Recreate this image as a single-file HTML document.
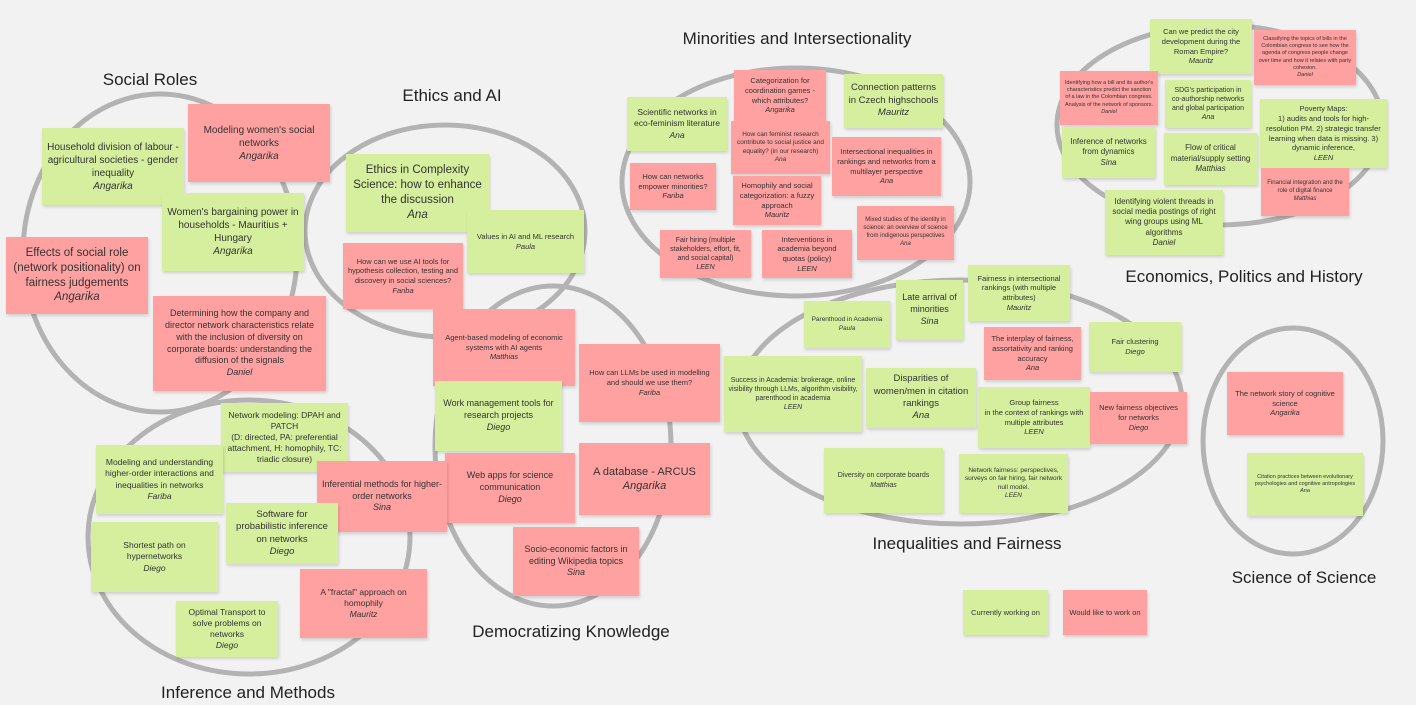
<!DOCTYPE html>
<html><head><meta charset="utf-8"><style>
body{margin:0;width:1416px;height:705px;background:#f2f2f2;position:relative;overflow:hidden;font-family:"Liberation Sans","DejaVu Sans",sans-serif;color:#333}
svg{position:absolute;left:0;top:0}
.n{position:absolute;display:flex;flex-direction:column;align-items:center;justify-content:center;text-align:center;line-height:1.3;box-shadow:1px 2px 3px rgba(0,0,0,.15);box-sizing:border-box;padding:2px 4px}
.g{background:#d5ef9e}.r{background:#ffa1a1}
.n i{display:block}
.t{position:absolute;font-size:17px;color:#222;white-space:nowrap;transform:translateX(-50%)}
</style></head><body>
<svg width="1416" height="705"><g fill="none" stroke="#b3b3b3" stroke-width="5">
<ellipse cx="160" cy="253" rx="137" ry="159"/>
<ellipse cx="445" cy="231" rx="140" ry="106"/>
<ellipse cx="553" cy="446" rx="118" ry="160"/>
<ellipse cx="249" cy="537" rx="161" ry="137"/>
<ellipse cx="796" cy="182" rx="174" ry="114"/>
<ellipse cx="1220" cy="125" rx="163" ry="100"/>
<ellipse cx="960" cy="402" rx="222" ry="122"/>
<ellipse cx="1293" cy="441" rx="90" ry="113"/>
</g></svg>
<div class="t" style="left:150px;top:70px">Social Roles</div>
<div class="t" style="left:452px;top:86px">Ethics and AI</div>
<div class="t" style="left:797px;top:29px">Minorities and Intersectionality</div>
<div class="t" style="left:1244px;top:267px">Economics, Politics and History</div>
<div class="t" style="left:967px;top:534px">Inequalities and Fairness</div>
<div class="t" style="left:1304px;top:568px">Science of Science</div>
<div class="t" style="left:571px;top:622px">Democratizing Knowledge</div>
<div class="t" style="left:248px;top:683px">Inference and Methods</div>

<div class="n g" style="left:42px;top:128px;width:142px;height:77px;font-size:10px">Household division of labour - agricultural societies - gender inequality<i>Angarika</i></div>
<div class="n r" style="left:188px;top:104px;width:142px;height:78px;font-size:10px">Modeling women's social networks<i>Angarika</i></div>
<div class="n g" style="left:162px;top:193px;width:142px;height:78px;font-size:10px">Women's bargaining power in households - Mauritius + Hungary<i>Angarika</i></div>
<div class="n r" style="left:6px;top:237px;width:142px;height:77px;font-size:11.5px">Effects of social role (network positionality) on fairness judgements<i>Angarika</i></div>
<div class="n r" style="left:153px;top:296px;width:173px;height:95px;font-size:9px">Determining how the company and director network characteristics relate with the inclusion of diversity on corporate boards: understanding the diffusion of the signals<i>Daniel</i></div>

<div class="n g" style="left:346px;top:154px;width:143px;height:78px;font-size:11.5px">Ethics in Complexity Science: how to enhance the discussion<i>Ana</i></div>
<div class="n g" style="left:467px;top:210px;width:117px;height:63px;font-size:7.5px">Values in AI and ML research<i>Paula</i></div>
<div class="n r" style="left:343px;top:243px;width:120px;height:66px;font-size:7.5px">How can we use AI tools for hypothesis collection, testing and discovery in social sciences?<i>Fariba</i></div>

<div class="n r" style="left:433px;top:309px;width:142px;height:77px;font-size:7.5px">Agent-based modeling of economic systems with AI agents<i>Matthias</i></div>
<div class="n g" style="left:435px;top:381px;width:127px;height:70px;font-size:9px">Work management tools for research projects<i>Diego</i></div>
<div class="n r" style="left:445px;top:453px;width:130px;height:70px;font-size:9px">Web apps for science communication<i>Diego</i></div>
<div class="n r" style="left:579px;top:344px;width:141px;height:78px;font-size:7.5px">How can LLMs be used in modelling and should we use them?<i>Fariba</i></div>
<div class="n r" style="left:579px;top:443px;width:131px;height:72px;font-size:11px">A database - ARCUS<i>Angarika</i></div>
<div class="n r" style="left:513px;top:527px;width:126px;height:69px;font-size:9px">Socio-economic factors in editing Wikipedia topics<i>Sina</i></div>

<div class="n g" style="left:221px;top:403px;width:127px;height:69px;font-size:8.5px">Network modeling: DPAH and PATCH<br>(D: directed, PA: preferential attachment, H: homophily, TC: triadic closure)</div>
<div class="n g" style="left:96px;top:445px;width:127px;height:69px;font-size:8.5px">Modeling and understanding higher-order interactions and inequalities in networks<i>Fariba</i></div>
<div class="n r" style="left:317px;top:461px;width:130px;height:71px;font-size:9px">Inferential methods for higher-order networks<i>Sina</i></div>
<div class="n g" style="left:226px;top:503px;width:112px;height:61px;font-size:9.5px">Software for probabilistic inference on networks<i>Diego</i></div>
<div class="n g" style="left:91px;top:522px;width:127px;height:70px;font-size:8.5px">Shortest path on hypernetworks<i>Diego</i></div>
<div class="n r" style="left:300px;top:569px;width:127px;height:69px;font-size:8.5px">A "fractal" approach on homophily<i>Mauritz</i></div>
<div class="n g" style="left:176px;top:601px;width:102px;height:56px;font-size:8.5px">Optimal Transport to solve problems on networks<i>Diego</i></div>

<div class="n g" style="left:627px;top:97px;width:100px;height:54px;font-size:8.5px">Scientific networks in eco-feminism literature<i>Ana</i></div>
<div class="n r" style="left:734px;top:70px;width:92px;height:51px;font-size:7.5px">Categorization for coordination games - which attributes?<i>Angarika</i></div>
<div class="n g" style="left:844px;top:74px;width:99px;height:54px;font-size:9.5px">Connection patterns in Czech highschools<i>Mauritz</i></div>
<div class="n r" style="left:731px;top:121px;width:99px;height:53px;font-size:6.5px">How can feminist research contribute to social justice and equality? (in our research)<i>Ana</i></div>
<div class="n r" style="left:630px;top:163px;width:86px;height:47px;font-size:7.5px">How can networks empower minorities?<i>Fariba</i></div>
<div class="n r" style="left:733px;top:176px;width:88px;height:49px;font-size:7.5px">Homophily and social categorization: a fuzzy approach<i>Mauritz</i></div>
<div class="n r" style="left:832px;top:137px;width:109px;height:59px;font-size:7.5px">Intersectional inequalities in rankings and networks from a multilayer perspective<i>Ana</i></div>
<div class="n r" style="left:857px;top:206px;width:97px;height:54px;font-size:6px">Mixed studies of the identity in science: an overview of science from indigenous perspectives<i>Ana</i></div>
<div class="n r" style="left:660px;top:230px;width:91px;height:48px;font-size:7px">Fair hiring (multiple stakeholders, effort, fit, and social capital)<i>LEEN</i></div>
<div class="n r" style="left:762px;top:230px;width:90px;height:48px;font-size:7.5px">Interventions in academia beyond quotas (policy)<i>LEEN</i></div>

<div class="n g" style="left:1150px;top:19px;width:102px;height:55px;font-size:7.5px">Can we predict the city development during the Roman Empire?<i>Mauritz</i></div>
<div class="n r" style="left:1254px;top:30px;width:102px;height:55px;font-size:5.5px">Classifying the topics of bills in the Colombian congress to see how the agenda of congress people change over time and how it relates with party cohesion.<i>Daniel</i></div>
<div class="n r" style="left:1060px;top:71px;width:98px;height:54px;font-size:5.5px">Identifying how a bill and its author's characteristics predict the sanction of a law in the Colombian congress. Analysis of the network of sponsors.<i>Daniel</i></div>
<div class="n g" style="left:1165px;top:80px;width:86px;height:48px;font-size:7px">SDG's participation in co-authorship networks and global participation<i>Ana</i></div>
<div class="n g" style="left:1062px;top:127px;width:93px;height:51px;font-size:8px">Inference of networks from dynamics<i>Sina</i></div>
<div class="n g" style="left:1164px;top:133px;width:93px;height:52px;font-size:8px">Flow of critical material/supply setting<i>Matthias</i></div>
<div class="n g" style="left:1260px;top:99px;width:127px;height:69px;font-size:7.5px">Poverty Maps:<br>1) audits and tools for high-resolution PM. 2) strategic transfer learning when data is missing. 3) dynamic inference,<i>LEEN</i></div>
<div class="n r" style="left:1261px;top:168px;width:88px;height:48px;font-size:6px">Financial integration and the role of digital finance<i>Matthias</i></div>
<div class="n g" style="left:1105px;top:190px;width:118px;height:65px;font-size:8px">Identifying violent threads in social media postings of right wing groups using ML algorithms<i>Daniel</i></div>

<div class="n g" style="left:968px;top:265px;width:102px;height:56px;font-size:7.5px">Fairness in intersectional rankings (with multiple attributes)<i>Mauritz</i></div>
<div class="n g" style="left:896px;top:280px;width:67px;height:60px;font-size:9px">Late arrival of minorities<i>Sina</i></div>
<div class="n g" style="left:804px;top:301px;width:86px;height:47px;font-size:6.5px">Parenthood in Academia<i>Paula</i></div>
<div class="n r" style="left:984px;top:327px;width:97px;height:53px;font-size:7.5px">The interplay of fairness, assortativity and ranking accuracy<i>Ana</i></div>
<div class="n g" style="left:1089px;top:322px;width:92px;height:50px;font-size:7.5px">Fair clustering<i>Diego</i></div>
<div class="n g" style="left:724px;top:356px;width:138px;height:76px;font-size:7px">Success in Academia: brokerage, online visibility through LLMs, algorithm visibility, parenthood in academia<i>LEEN</i></div>
<div class="n g" style="left:866px;top:368px;width:110px;height:60px;font-size:9.5px">Disparities of women/men in citation rankings<i>Ana</i></div>
<div class="n g" style="left:978px;top:387px;width:112px;height:61px;font-size:7.5px">Group fairness<br>in the context of rankings with multiple attributes<i>LEEN</i></div>
<div class="n r" style="left:1090px;top:392px;width:97px;height:52px;font-size:7.5px">New fairness objectives for networks<i>Diego</i></div>
<div class="n g" style="left:824px;top:448px;width:119px;height:65px;font-size:7px">Diversity on corporate boards<i>Matthias</i></div>
<div class="n g" style="left:959px;top:454px;width:109px;height:59px;font-size:6.5px">Network fairness: perspectives, surveys on fair hiring, fair network null model.<i>LEEN</i></div>

<div class="n r" style="left:1227px;top:372px;width:116px;height:63px;font-size:7.5px">The network story of cognitive science<i>Angarika</i></div>
<div class="n g" style="left:1247px;top:453px;width:116px;height:63px;font-size:5.5px">Citation practices between evolutionary psychologies and cognitive antropologies<i>Ana</i></div>

<div class="n g" style="left:963px;top:590px;width:85px;height:45px;font-size:7.5px">Currently working on</div>
<div class="n r" style="left:1063px;top:590px;width:84px;height:45px;font-size:7.5px">Would like to work on</div>
</body></html>
